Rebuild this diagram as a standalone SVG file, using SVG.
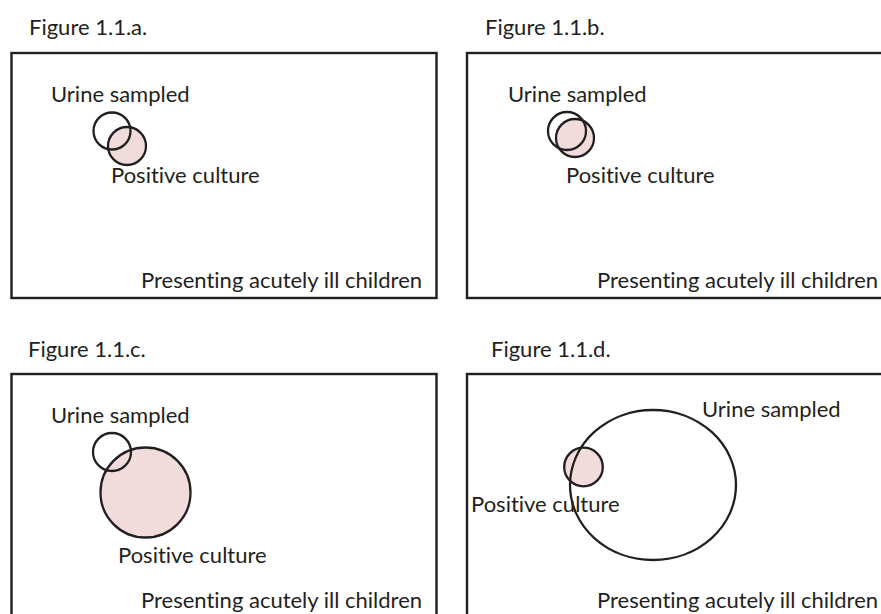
<svg xmlns="http://www.w3.org/2000/svg" width="881" height="614" viewBox="0 0 881 614">
<style>
.frame{fill:none;stroke:#231f20;stroke-width:2.4}
.set{fill:none;stroke:#231f20;stroke-width:2.3}
.pos{fill:#f2dcdb;stroke:#231f20;stroke-width:2.3}
text{font-family:Lato,"Liberation Sans",sans-serif;font-size:22px;fill:#231f20;font-variant-ligatures:none;font-feature-settings:"liga" 0}
</style>
<rect width="881" height="614" fill="#ffffff"/>
<g id="panel-a">
<text x="29" y="35">Figure 1.1.a.</text>
<rect class="frame" x="11.5" y="53" width="425" height="245"/>
<circle class="pos" cx="127" cy="146" r="19"/>
<circle class="set" cx="112" cy="131" r="18.5"/>
<text x="51" y="102">Urine sampled</text>
<text x="111" y="183">Positive culture</text>
<text x="141" y="288">Presenting acutely ill children</text>
</g>
<g id="panel-b">
<text x="485" y="35">Figure 1.1.b.</text>
<rect class="frame" x="467" y="53" width="430" height="245"/>
<circle class="pos" cx="575" cy="138" r="19"/>
<circle class="set" cx="567" cy="131" r="19"/>
<text x="508" y="102">Urine sampled</text>
<text x="566" y="183">Positive culture</text>
<text x="597" y="288">Presenting acutely ill children</text>
</g>
<g id="panel-c">
<text x="28" y="357">Figure 1.1.c.</text>
<rect class="frame" x="11.5" y="374" width="425" height="250"/>
<circle class="pos" cx="145.5" cy="492.5" r="45"/>
<circle class="set" cx="112" cy="452" r="19"/>
<text x="51" y="423">Urine sampled</text>
<text x="118" y="563">Positive culture</text>
<text x="141" y="608">Presenting acutely ill children</text>
</g>
<g id="panel-d">
<text x="491" y="357">Figure 1.1.d.</text>
<rect class="frame" x="467" y="374" width="430" height="250"/>
<circle class="pos" cx="583.5" cy="467" r="19.3"/>
<text x="702" y="417">Urine sampled</text>
<text x="471" y="512">Positive culture</text>
<ellipse class="set" cx="653" cy="485" rx="83" ry="75"/>
<text x="597" y="608">Presenting acutely ill children</text>
</g>
<g id="connectors"/>
</svg>
